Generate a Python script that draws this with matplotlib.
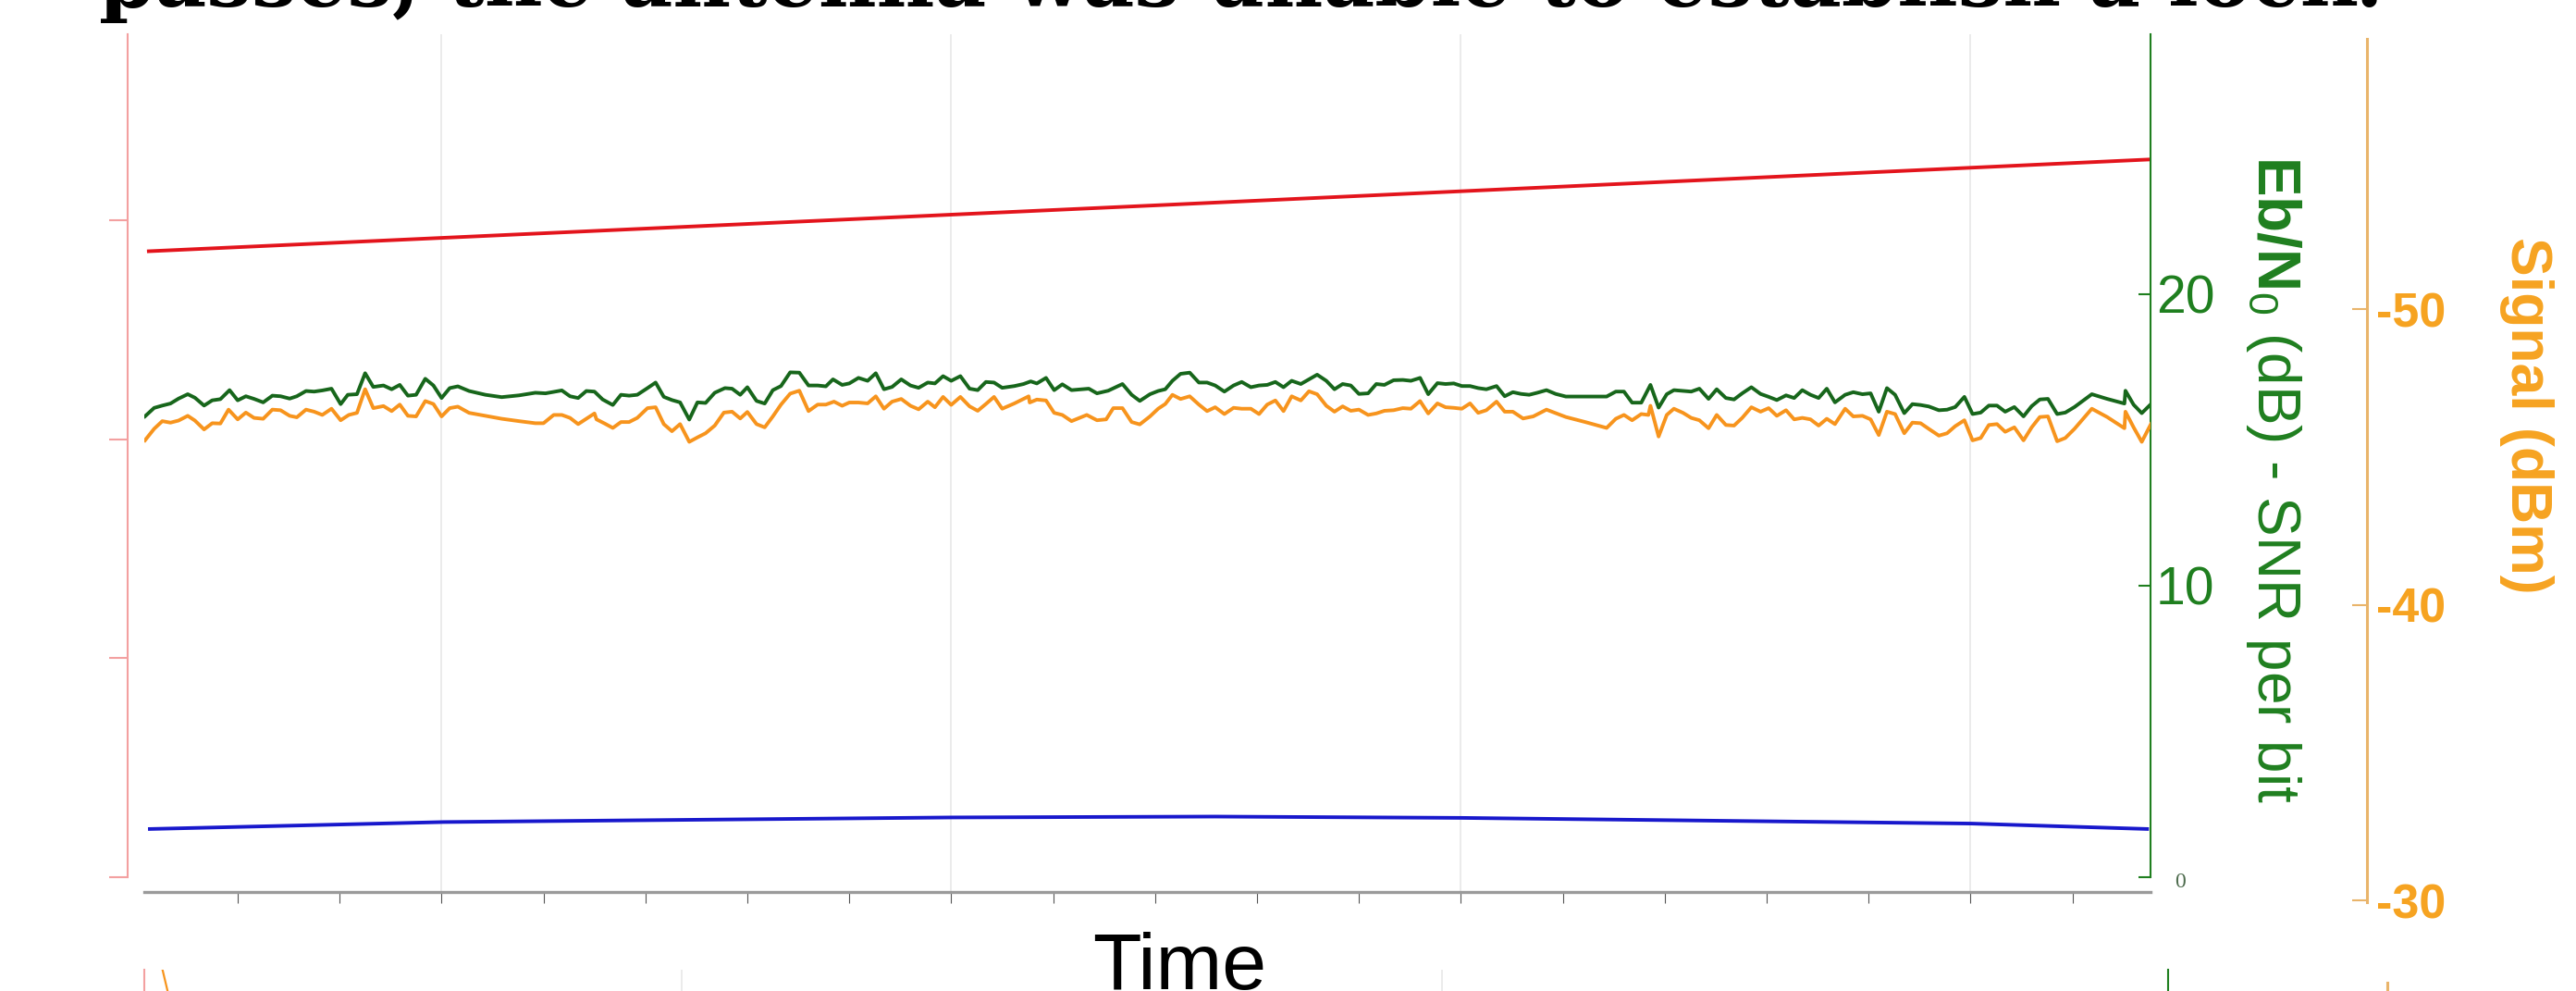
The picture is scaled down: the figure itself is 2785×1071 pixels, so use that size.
import matplotlib
matplotlib.use("Agg")
import matplotlib.pyplot as plt

# --- data (time in minutes) ---

# Eb/N0 (dB), green series
snr_t = [0.09, 0.18, 0.26, 0.34, 0.42, 0.51, 0.58, 0.67, 0.75, 0.83,
         0.92, 1.00, 1.08, 1.16, 1.25, 1.34, 1.42, 1.51, 1.58, 1.67,
         1.75, 1.83, 1.92, 2.01, 2.08, 2.17, 2.25, 2.33, 2.43, 2.51,
         2.59, 2.67, 2.75, 2.84, 2.92, 3.00, 3.08, 3.16, 3.27, 3.43,
         3.59, 3.76, 3.92, 4.02, 4.18, 4.26, 4.34, 4.42, 4.50, 4.58,
         4.68, 4.76, 4.84, 4.92, 5.02, 5.10,
         5.18, 5.26, 5.34, 5.43, 5.51, 5.59, 5.68, 5.78, 5.85, 5.93,
         6.00, 6.09, 6.17, 6.25, 6.33, 6.42, 6.51, 6.60, 6.69, 6.77,
         6.84, 6.93, 7.00, 7.09, 7.18, 7.26, 7.34, 7.42, 7.51, 7.60,
         7.68, 7.77, 7.84, 7.92, 8.00, 8.09, 8.18, 8.26, 8.34, 8.42,
         8.50, 8.62, 8.71, 8.78, 8.84, 8.93, 9.01, 9.09, 9.18, 9.35,
         9.43, 9.54, 9.68, 9.77, 9.85, 9.95, 10.03, 10.10,
         10.17, 10.25, 10.34, 10.43, 10.51, 10.59, 10.68, 10.77, 10.85, 10.94,
         11.02, 11.10, 11.18, 11.26, 11.34, 11.43, 11.51, 11.59, 11.68, 11.76,
         11.84, 11.92, 12.00, 12.09, 12.17, 12.25, 12.34, 12.43, 12.51, 12.60,
         12.68, 12.77, 12.85, 12.93, 13.01, 13.09, 13.17, 13.25, 13.35, 13.43,
         13.51, 13.59, 13.67, 13.75, 13.84, 13.93, 14.03, 14.22, 14.43, 14.52,
         14.60, 14.68, 14.77, 14.86, 14.94, 15.02, 15.09,
         15.16, 15.26, 15.34, 15.43, 15.51, 15.60, 15.68, 15.76, 15.85, 15.94,
         16.02, 16.10, 16.19, 16.27, 16.35, 16.43, 16.51, 16.59, 16.67, 16.77,
         16.85, 16.94, 17.02, 17.10, 17.18, 17.26, 17.35, 17.43, 17.51, 17.59,
         17.69, 17.77, 17.85, 17.94, 18.02, 18.10, 18.18, 18.26, 18.34, 18.43,
         18.52, 18.60, 18.68, 18.76, 18.85, 18.93, 19.02, 19.19, 19.34, 19.51,
         19.52, 19.60, 19.68, 19.77]
snr_db = [15.81, 16.10, 16.18, 16.25, 16.42, 16.57, 16.45, 16.18, 16.36, 16.40,
          16.71, 16.36, 16.50, 16.41, 16.29, 16.52, 16.50, 16.42, 16.50, 16.68,
          16.66, 16.70, 16.76, 16.23, 16.55, 16.57, 17.29, 16.82, 16.87, 16.74,
          16.89, 16.52, 16.55, 17.10, 16.87, 16.44, 16.78, 16.84, 16.68, 16.55,
          16.47, 16.53, 16.62, 16.60, 16.70, 16.50, 16.44, 16.68, 16.66, 16.39,
          16.20, 16.55, 16.52, 16.55, 16.78, 16.97,
          16.48, 16.37, 16.29, 15.70, 16.29, 16.27, 16.62, 16.78, 16.76, 16.55,
          16.81, 16.34, 16.25, 16.71, 16.85, 17.32, 17.31, 16.87, 16.87, 16.84,
          17.08, 16.89, 16.94, 17.13, 17.03, 17.29, 16.74, 16.82, 17.08, 16.87,
          16.79, 16.97, 16.94, 17.19, 17.03, 17.19, 16.76, 16.71, 16.99, 16.97,
          16.79, 16.85, 16.92, 17.01, 16.94, 17.13, 16.71, 16.91, 16.71, 16.76,
          16.60, 16.69, 16.92, 16.55, 16.34, 16.57, 16.68, 16.74,
          17.03, 17.27, 17.31, 16.97, 16.97, 16.87, 16.66, 16.87, 16.99, 16.81,
          16.87, 16.89, 16.99, 16.81, 17.03, 16.92, 17.08, 17.24, 17.03, 16.74,
          16.92, 16.87, 16.58, 16.60, 16.92, 16.89, 17.05, 17.06, 17.03, 17.13,
          16.57, 16.95, 16.92, 16.94, 16.85, 16.85, 16.78, 16.74, 16.85, 16.50,
          16.64, 16.58, 16.55, 16.62, 16.71, 16.58, 16.49, 16.49, 16.49, 16.66,
          16.66, 16.28, 16.28, 16.89, 16.11, 16.57, 16.71,
          16.69, 16.66, 16.76, 16.41, 16.74, 16.44, 16.39, 16.60, 16.81, 16.58,
          16.48, 16.37, 16.53, 16.44, 16.71, 16.55, 16.44, 16.76, 16.29, 16.55,
          16.64, 16.57, 16.60, 15.97, 16.78, 16.55, 15.92, 16.23, 16.20, 16.15,
          16.02, 16.04, 16.13, 16.48, 15.89, 15.94, 16.18, 16.18, 15.97, 16.13,
          15.81, 16.16, 16.39, 16.41, 15.89, 15.94, 16.13, 16.57, 16.41, 16.25,
          16.69, 16.21, 15.92, 16.23]

# Signal (dBm), orange series
sig_t = [0.09, 0.18, 0.26, 0.34, 0.42, 0.51, 0.58, 0.67, 0.75, 0.83,
         0.91, 1.00, 1.08, 1.16, 1.25, 1.34, 1.42, 1.51, 1.58, 1.67,
         1.75, 1.83, 1.92, 2.01, 2.09, 2.17, 2.25, 2.33, 2.43, 2.51,
         2.59, 2.67, 2.75, 2.84, 2.92, 3.00, 3.08, 3.16, 3.27, 3.43,
         3.59, 3.76, 3.92, 4.00, 4.10, 4.18, 4.26, 4.34, 4.42, 4.50,
         4.52, 4.60, 4.68, 4.76, 4.84, 4.92, 5.02, 5.10,
         5.18, 5.26, 5.34, 5.43, 5.51, 5.59, 5.68, 5.77, 5.85, 5.93,
         6.00, 6.09, 6.17, 6.25, 6.33, 6.42, 6.51, 6.60, 6.69, 6.77,
         6.85, 6.93, 7.00, 7.09, 7.18, 7.26, 7.34, 7.42, 7.51, 7.60,
         7.68, 7.77, 7.84, 7.92, 8.00, 8.09, 8.18, 8.26, 8.34, 8.42,
         8.50, 8.62, 8.76, 8.77, 8.84, 8.93, 9.01, 9.09, 9.18, 9.33,
         9.43, 9.52, 9.59, 9.68, 9.77, 9.85, 9.95, 10.03, 10.10,
         10.17, 10.25, 10.34, 10.43, 10.51, 10.59, 10.68, 10.77, 10.85, 10.94,
         11.02, 11.10, 11.18, 11.26, 11.34, 11.43, 11.51, 11.59, 11.68, 11.76,
         11.84, 11.92, 12.00, 12.09, 12.17, 12.25, 12.34, 12.43, 12.51, 12.60,
         12.68, 12.77, 12.85, 12.93, 13.01, 13.09, 13.17, 13.25, 13.35, 13.43,
         13.51, 13.61, 13.71, 13.84, 14.03, 14.22, 14.43, 14.52, 14.60, 14.68,
         14.77, 14.84, 14.86, 14.94, 15.02, 15.09,
         15.18, 15.26, 15.34, 15.43, 15.51, 15.60, 15.68, 15.76, 15.85, 15.94,
         16.02, 16.10, 16.19, 16.27, 16.35, 16.43, 16.51, 16.59, 16.67, 16.77,
         16.85, 16.94, 17.02, 17.10, 17.18, 17.26, 17.35, 17.43, 17.51, 17.59,
         17.69, 17.77, 17.85, 17.94, 18.02, 18.10, 18.18, 18.26, 18.34, 18.43,
         18.52, 18.60, 18.68, 18.76, 18.85, 18.93, 19.02, 19.19, 19.34, 19.51,
         19.52, 19.60, 19.68, 19.77]
sig_dbm = [-45.56, -45.95, -46.21, -46.16, -46.23, -46.39, -46.23, -45.93, -46.14, -46.13,
           -46.60, -46.27, -46.50, -46.32, -46.29, -46.60, -46.58, -46.39, -46.34, -46.60,
           -46.53, -46.42, -46.63, -46.24, -46.42, -46.49, -47.29, -46.65, -46.72, -46.55,
           -46.77, -46.39, -46.37, -46.89, -46.79, -46.37, -46.65, -46.70, -46.49, -46.39,
           -46.29, -46.21, -46.14, -46.14, -46.42, -46.42, -46.32, -46.11, -46.29, -46.47,
           -46.27, -46.13, -45.98, -46.18, -46.18, -46.32, -46.65, -46.68,
           -46.11, -45.87, -46.11, -45.51, -45.66, -45.80, -46.06, -46.50, -46.53, -46.30,
           -46.52, -46.11, -46.00, -46.37, -46.77, -47.14, -47.24, -46.55, -46.77, -46.77,
           -46.87, -46.73, -46.84, -46.84, -46.81, -47.05, -46.63, -46.87, -46.96, -46.73,
           -46.61, -46.87, -46.68, -47.03, -46.76, -47.03, -46.71, -46.56, -46.79, -47.03,
           -46.63, -46.81, -47.05, -46.84, -46.94, -46.91, -46.49, -46.42, -46.21, -46.42,
           -46.24, -46.27, -46.65, -46.65, -46.18, -46.10, -46.37, -46.63, -46.79,
           -47.10, -46.96, -47.05, -46.77, -46.55, -46.68, -46.45, -46.66, -46.63, -46.63,
           -46.45, -46.77, -46.91, -46.55, -47.05, -46.91, -47.22, -47.12, -46.73, -46.53,
           -46.71, -46.56, -46.60, -46.42, -46.47, -46.56, -46.58, -46.65, -46.63, -46.89,
           -46.47, -46.81, -46.68, -46.66, -46.63, -46.81, -46.49, -46.58, -46.87, -46.53,
           -46.53, -46.30, -46.37, -46.60, -46.35, -46.18, -45.98, -46.29, -46.42, -46.24,
           -46.45, -46.42, -46.73, -45.69, -46.42, -46.63,
           -46.49, -46.32, -46.24, -45.97, -46.42, -46.08, -46.06, -46.32, -46.68, -46.53,
           -46.65, -46.39, -46.58, -46.27, -46.32, -46.27, -46.06, -46.29, -46.11, -46.63,
           -46.37, -46.39, -46.27, -45.74, -46.53, -46.45, -45.80, -46.16, -46.14, -45.95,
           -45.72, -45.80, -46.04, -46.24, -45.56, -45.64, -46.08, -46.11, -45.85, -46.00,
           -45.56, -46.00, -46.35, -46.37, -45.53, -45.64, -45.95, -46.63, -46.35, -45.97,
           -46.53, -46.00, -45.51, -46.11]

# red and blue curves on the unlabelled left axis
red_t = [0.11, 10.0, 19.77]
red_val = [2.86, 3.07, 3.28]
blue_t = [0.12, 3.02, 8.01, 10.59, 13.01, 18.01, 19.75]
blue_val = [0.220, 0.252, 0.273, 0.277, 0.271, 0.245, 0.220]

time_ticks = list(range(1, 20))
grid_t = [3, 8, 13, 18]
red_ticks = [0, 1, 2, 3]
snr_ticks = [0, 10, 20]
sig_ticks = [-50, -40, -30]

# start of the next chart, cut off at the bottom
next_grid_t = [5.31, 12.82]
next_sig_t = [0.18, 0.23, 0.30]
next_sig = [100, 90.9, 78]

title_text = "passes, the antenna was unable to establish a lock."

# --- colours ---
RED = "#e3141c"
RED_AX = "#f3a0a0"
BLUE = "#1818cc"
GREEN_LINE = "#17661b"
GREEN_AX = "#1f7f1f"
ORANGE_LINE = "#f7941d"
ORANGE_AX = "#e9b46a"
ORANGE_TXT = "#f6a321"
GRID = "#e8e8e8"
LW = 2.8

plt.rcParams["font.family"] = ["Liberation Sans", "DejaVu Sans"]
plt.rcParams["axes.unicode_minus"] = False
plt.rcParams["mathtext.fontset"] = "custom"
plt.rcParams["mathtext.rm"] = "Liberation Sans"
plt.rcParams["mathtext.bf"] = "Liberation Sans:bold"

W, H = 2785, 1071
fig = plt.figure(figsize=(W / 100, H / 100), dpi=100)


def px_rect(x0, y0, x1, y1):
    # pixel box (top-left origin) -> figure fraction rect
    return [x0 / W, 1 - y1 / H, (x1 - x0) / W, (y1 - y0) / H]


# main axes: red left axis + time axis
ax = fig.add_axes(px_rect(156, 37, 2325, 948))
ax.set_xlim(0.0835, 19.766)
ax.set_ylim(0, 3.852)
ax.vlines(grid_t, -0.0176, 1, transform=ax.get_xaxis_transform(),
          colors=GRID, lw=1.2, clip_on=False, zorder=0)
ax.plot(red_t, red_val, color=RED, lw=LW, solid_capstyle="butt")
ax.plot(blue_t, blue_val, color=BLUE, lw=LW, solid_capstyle="butt")

for s in ["top", "right"]:
    ax.spines[s].set_visible(False)
ax.spines["left"].set_position(("outward", 13))
ax.spines["left"].set_color(RED_AX)
ax.spines["left"].set_linewidth(1.5)
ax.set_yticks(red_ticks)
ax.set_yticklabels([])
ax.tick_params(axis="y", direction="out", length=14.4, width=1.5, color=RED_AX)

ax.spines["bottom"].set_position(("outward", 11.5))
ax.spines["bottom"].set_color("#9a9a9a")
ax.spines["bottom"].set_linewidth(2.4)
ax.set_xticks(time_ticks)
ax.set_xticklabels([])
ax.tick_params(axis="x", direction="out", length=8.6, width=0.8, color="#555555")

# green Eb/N0 axis
ax_g = ax.twinx()
ax_g.set_ylim(0, 28.92)
ax_g.plot(snr_t, snr_db, color=GREEN_LINE, lw=LW)
for s in ["top", "left", "bottom"]:
    ax_g.spines[s].set_visible(False)
ax_g.spines["right"].set_color(GREEN_AX)
ax_g.spines["right"].set_linewidth(1.5)
ax_g.set_yticks(snr_ticks)
ax_g.set_yticklabels(["", "10", "20"])
ax_g.tick_params(axis="y", direction="in", length=9.4, width=1.5, color=GREEN_AX,
                 labelcolor=GREEN_AX, labelsize=41, pad=4.3)
ax_g.annotate("0", xy=(1, 0), xycoords="axes fraction", xytext=(19, -4),
              textcoords="offset points", ha="left", va="center",
              fontsize=17, family="Liberation Serif", color="#4d6b4d")

# orange signal axis (taller, offset to the right, inverted)
ax_o = fig.add_axes(px_rect(156, 42, 2325, 975))
ax_o.patch.set_visible(False)
ax_o.set_xlim(0.0835, 19.766)
ax_o.set_ylim(-29.94, -59.14)
ax_o.plot(sig_t, sig_dbm, color=ORANGE_LINE, lw=LW)
ax_o.yaxis.tick_right()
for s in ["top", "left", "bottom"]:
    ax_o.spines[s].set_visible(False)
ax_o.spines["right"].set_position(("outward", 168.5))
ax_o.spines["right"].set_color(ORANGE_AX)
ax_o.spines["right"].set_linewidth(2.2)
ax_o.set_xticks([])
ax_o.set_yticks(sig_ticks)
ax_o.set_yticklabels([str(v) for v in sig_ticks], fontweight="bold")
ax_o.tick_params(axis="y", direction="in", length=11.5, width=1.5, color=ORANGE_AX,
                 labelcolor=ORANGE_TXT, labelsize=37.5, pad=7.2)

# axis titles
fig.text(2458 / W, 1 - 518 / H, r"$\mathbf{Eb/N}_\mathrm{0}$ (dB) - SNR per bit",
         rotation=270, fontsize=46, color=GREEN_AX, ha="center", va="center")
fig.text(2732 / W, 1 - 449 / H, "Signal (dBm)", rotation=270, fontsize=45,
         fontweight="bold", color=ORANGE_TXT, ha="center", va="center")
fig.text(1275 / W, 1 - 1069 / H, "Time", fontsize=62, ha="center", va="baseline")

# the next chart peeking in at the bottom
ax2 = fig.add_axes(px_rect(156, 1048, 2344, 1300))
ax2.patch.set_visible(False)
ax2.set_xlim(0, 20)
ax2.set_ylim(0, 100)
ax2.vlines(next_grid_t, 0, 100, colors=GRID, lw=1.2)
ax2.plot(next_sig_t, next_sig, color=ORANGE_LINE, lw=1.6)
ax2.set_xticks([])
ax2.set_yticks([])
for s in ["top", "bottom"]:
    ax2.spines[s].set_visible(False)
ax2.spines["left"].set_color(RED_AX)
ax2.spines["left"].set_linewidth(1.5)
ax2.spines["right"].set_color(GREEN_AX)
ax2.spines["right"].set_linewidth(1.5)

ax3 = fig.add_axes(px_rect(156, 1062, 2344, 1300))
ax3.patch.set_visible(False)
ax3.set_xticks([])
ax3.set_yticks([])
for s in ["top", "bottom", "left"]:
    ax3.spines[s].set_visible(False)
ax3.spines["right"].set_position(("outward", 170.6))
ax3.spines["right"].set_color(ORANGE_AX)
ax3.spines["right"].set_linewidth(2.2)

# title line, clipped by the top edge; size fitted to its width in the picture
title = fig.text(107 / W, 1 - 7 / H, title_text, fontsize=60, fontweight="bold",
                 family="DejaVu Serif", ha="left", va="baseline")
fig.canvas.draw()
bb = title.get_window_extent()
title.set_fontsize(60 * 2472 / bb.width)

fig.savefig("out.png", dpi=100)
